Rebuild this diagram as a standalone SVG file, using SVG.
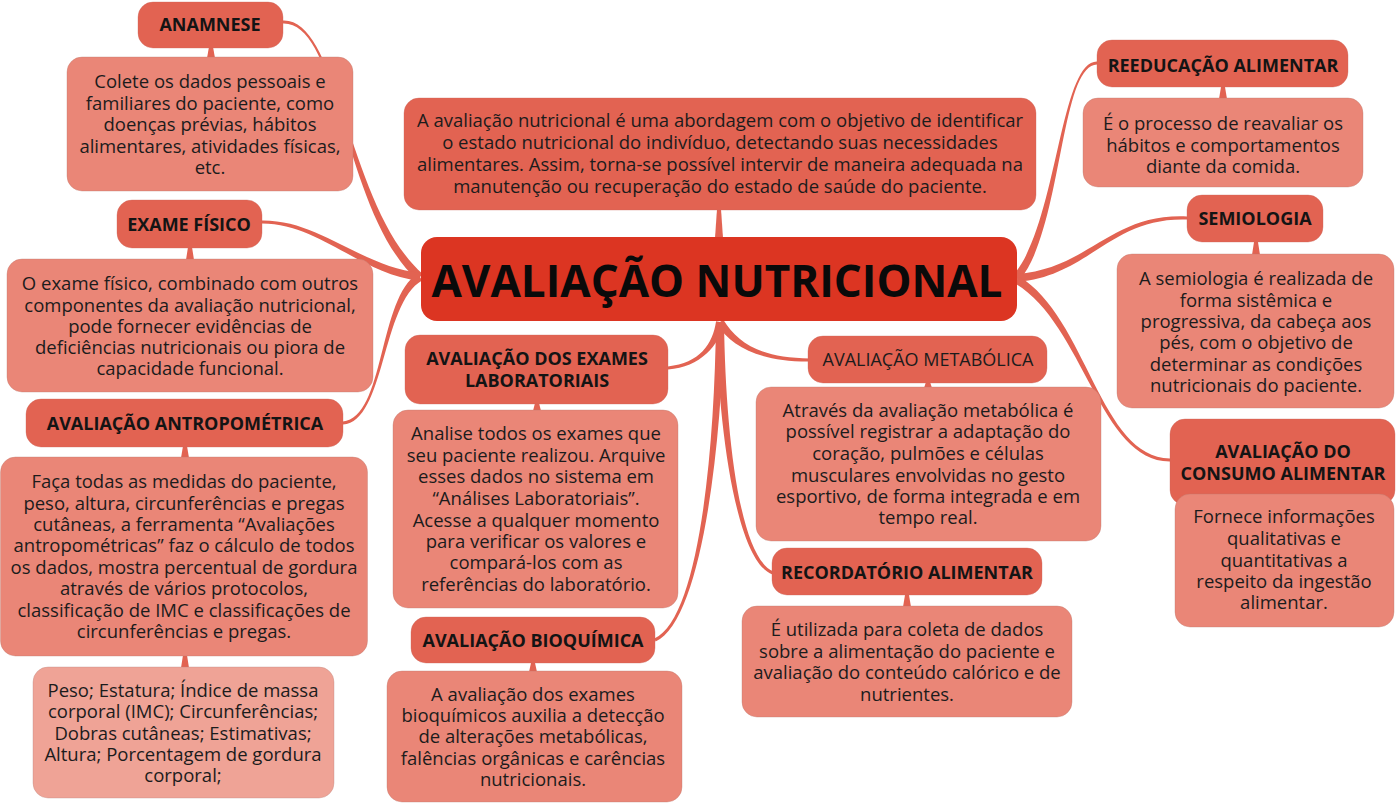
<svg xmlns="http://www.w3.org/2000/svg" width="1397" height="803" viewBox="0 0 1397 803">
<style>
.hdr{fill:#E26352;stroke:#c9685b;stroke-opacity:0.35;stroke-width:1}
.dsc{fill:#EA8677;stroke:#b9776d;stroke-opacity:0.35;stroke-width:1}
.lite{fill:#EFA396;stroke:#b9877f;stroke-opacity:0.35;stroke-width:1}
.ctr{fill:#DC3522}
.br{fill:#E26352}
text{font-family:"Open Sans","DejaVu Sans",sans-serif;font-size:18.5px;fill:#1c1c1c;text-anchor:middle}
.b{font-weight:bold;fill:#141414;font-size:18px}
.m{font-size:18px}
.ttl{font-size:44px;font-weight:bold;fill:#0a0a0a}
</style>
<rect width="1397" height="803" fill="#ffffff"/>
<g id="connectors">
<path class="br" d="M 283.1 23.5 C 340.1 22, 342.7 212.6, 417.3 280 L 422.7 274 C 347.3 207.4, 339.9 18, 282.9 20.5 Z"/>
<path class="br" d="M 262 223.5 C 320 224, 359.6 273.5, 419.5 281 L 420.5 273 C 360.4 266.5, 320 220, 262 220.5 Z"/>
<path class="br" d="M 343.1 424.5 C 385.1 422, 381.7 303, 422 280.5 L 418 273.5 C 378.3 297, 384.9 418, 342.9 421.5 Z"/>
<path class="br" d="M 1097 61.5 C 1060 61, 1057.3 222.8, 1013.9 274.5 L 1020.1 279.5 C 1062.7 227.2, 1060 65, 1097 64.5 Z"/>
<path class="br" d="M 1187 216.5 C 1110 213, 1089.7 268.5, 1016.7 274 L 1017.3 282 C 1090.3 275.5, 1110 217, 1187 219.5 Z"/>
<path class="br" d="M 1170 458.5 C 1100 458, 1086.8 317, 1019 276.6 L 1015 283.4 C 1083.2 323, 1100 462, 1170 461.5 Z"/>
<path class="br" d="M 668.1 369.5 C 700.2 367, 719.4 345.6, 723.9 322.7 L 716.1 321.3 C 712.6 344.4, 699.8 363, 667.9 366.5 Z"/>
<path class="br" d="M 655.6 641.4 C 700.8 621.8, 721.5 450, 724 322 L 716 322 C 714.5 450, 699.2 618.2, 654.4 638.6 Z"/>
<path class="br" d="M 810 358.5 C 760 358, 737.9 343.1, 723.3 319.8 L 716.7 324.2 C 732.1 346.9, 760 362, 810 361.5 Z"/>
<path class="br" d="M 773.5 571.6 C 738.7 557.1, 725.5 429.9, 724 321.9 L 716 322.1 C 718.5 430.1, 736.3 561.9, 772.5 574.4 Z"/>
<polygon class="br" points="717,209 721,209 723,238 715,238"/>
<polygon class="br" points="209,47 213,47 215,58 207,58"/>
<polygon class="br" points="188,247 192,247 194,260 186,260"/>
<polygon class="br" points="183,446 187,446 189,458 181,458"/>
<polygon class="br" points="183,655 187,655 189,668 181,668"/>
<polygon class="br" points="535,403 539,403 541,411 533,411"/>
<polygon class="br" points="531,663 535,663 537,672 529,672"/>
<polygon class="br" points="926,382 930,382 932,388 924,388"/>
<polygon class="br" points="905,595 909,595 911,607 903,607"/>
<polygon class="br" points="1221,87 1225,87 1227,99 1219,99"/>
<polygon class="br" points="1254,242 1258,242 1260,255 1252,255"/>
</g>
<g id="central">
<rect class="ctr" x="421" y="237" width="596" height="84" rx="16"/>
<text class="ttl" x="717" y="297" textLength="571" lengthAdjust="spacingAndGlyphs">AVALIAÇÃO NUTRICIONAL</text>
</g>
<g id="intro">
<rect class="hdr" x="404" y="98" width="632" height="112" rx="15"/>
<text><tspan x="720" y="127">A avaliação nutricional é uma abordagem com o objetivo de identificar</tspan><tspan x="720" y="149">o estado nutricional do indivíduo, detectando suas necessidades</tspan><tspan x="720" y="171">alimentares. Assim, torna-se possível intervir de maneira adequada na</tspan><tspan x="720" y="193">manutenção ou recuperação do estado de saúde do paciente.</tspan></text>
</g>
<g id="anamnese">
<rect class="hdr" x="138" y="2" width="145" height="46" rx="15"/>
<text class="b" x="210" y="31">ANAMNESE</text>
</g>
<g id="anamnese-desc">
<rect class="dsc" x="67" y="57" width="286" height="134" rx="15"/>
<text><tspan x="210" y="88">Colete os dados pessoais e</tspan><tspan x="210" y="110">familiares do paciente, como</tspan><tspan x="210" y="131">doenças prévias, hábitos</tspan><tspan x="210" y="153">alimentares, atividades físicas,</tspan><tspan x="210" y="174">etc.</tspan></text>
</g>
<g id="exame">
<rect class="hdr" x="117" y="200" width="145" height="48" rx="15"/>
<text class="b" x="189" y="231">EXAME FÍSICO</text>
</g>
<g id="exame-desc">
<rect class="dsc" x="7" y="259" width="366" height="133" rx="15"/>
<text><tspan x="190" y="290">O exame físico, combinado com outros</tspan><tspan x="190" y="312">componentes da avaliação nutricional,</tspan><tspan x="190" y="333">pode fornecer evidências de</tspan><tspan x="190" y="354">deficiências nutricionais ou piora de</tspan><tspan x="190" y="375">capacidade funcional.</tspan></text>
</g>
<g id="antropometrica">
<rect class="hdr" x="26" y="399" width="317" height="48" rx="15"/>
<text class="b" x="185" y="430">AVALIAÇÃO ANTROPOMÉTRICA</text>
</g>
<g id="antropometrica-desc">
<rect class="dsc" x="0.5" y="457" width="367" height="199" rx="15"/>
<text><tspan x="184" y="488">Faça todas as medidas do paciente,</tspan><tspan x="184" y="510">peso, altura, circunferências e pregas</tspan><tspan x="184" y="531">cutâneas, a ferramenta “Avaliações</tspan><tspan x="184" y="552">antropométricas” faz o cálculo de todos</tspan><tspan x="184" y="574">os dados, mostra percentual de gordura</tspan><tspan x="184" y="595">através de vários protocolos,</tspan><tspan x="184" y="617">classificação de IMC e classificações de</tspan><tspan x="184" y="638">circunferências e pregas.</tspan></text>
</g>
<g id="antropometrica-lista">
<rect class="lite" x="33" y="667" width="301" height="131" rx="15"/>
<text><tspan x="183" y="697">Peso; Estatura; Índice de massa</tspan><tspan x="183" y="718">corporal (IMC); Circunferências;</tspan><tspan x="183" y="740">Dobras cutâneas; Estimativas;</tspan><tspan x="183" y="761">Altura; Porcentagem de gordura</tspan><tspan x="183" y="782">corporal;</tspan></text>
</g>
<g id="laboratoriais">
<rect class="hdr" x="405" y="335" width="263" height="69" rx="15"/>
<text class="b"><tspan x="537" y="365">AVALIAÇÃO DOS EXAMES</tspan><tspan x="537" y="387">LABORATORIAIS</tspan></text>
</g>
<g id="laboratoriais-desc">
<rect class="dsc" x="393" y="410" width="285" height="198" rx="15"/>
<text><tspan x="536" y="440">Analise todos os exames que</tspan><tspan x="536" y="462">seu paciente realizou. Arquive</tspan><tspan x="536" y="483">esses dados no sistema em</tspan><tspan x="536" y="505">“Análises Laboratoriais”.</tspan><tspan x="536" y="527">Acesse a qualquer momento</tspan><tspan x="536" y="548">para verificar os valores e</tspan><tspan x="536" y="569">compará-los com as</tspan><tspan x="536" y="591">referências do laboratório.</tspan></text>
</g>
<g id="bioquimica">
<rect class="hdr" x="411" y="617" width="244" height="46" rx="15"/>
<text class="b" x="533" y="647">AVALIAÇÃO BIOQUÍMICA</text>
</g>
<g id="bioquimica-desc">
<rect class="dsc" x="387" y="671" width="295" height="131" rx="15"/>
<text><tspan x="533" y="701">A avaliação dos exames</tspan><tspan x="533" y="722">bioquímicos auxilia a detecção</tspan><tspan x="533" y="743">de alterações metabólicas,</tspan><tspan x="533" y="765">falências orgânicas e carências</tspan><tspan x="533" y="786">nutricionais.</tspan></text>
</g>
<g id="metabolica">
<rect class="hdr" x="808" y="336" width="239" height="47" rx="15"/>
<text class="m" x="928" y="366">AVALIAÇÃO METABÓLICA</text>
</g>
<g id="metabolica-desc">
<rect class="dsc" x="756" y="387" width="345" height="154" rx="15"/>
<text><tspan x="928" y="417">Através da avaliação metabólica é</tspan><tspan x="928" y="438">possível registrar a adaptação do</tspan><tspan x="928" y="460">coração, pulmões e células</tspan><tspan x="928" y="482">musculares envolvidas no gesto</tspan><tspan x="928" y="503">esportivo, de forma integrada e em</tspan><tspan x="928" y="524">tempo real.</tspan></text>
</g>
<g id="recordatorio">
<rect class="hdr" x="772" y="548" width="270" height="47" rx="15"/>
<text class="b" x="907" y="579">RECORDATÓRIO ALIMENTAR</text>
</g>
<g id="recordatorio-desc">
<rect class="dsc" x="742" y="606" width="330" height="111" rx="15"/>
<text><tspan x="907" y="636">É utilizada para coleta de dados</tspan><tspan x="907" y="658">sobre a alimentação do paciente e</tspan><tspan x="907" y="679">avaliação do conteúdo calórico e de</tspan><tspan x="907" y="701">nutrientes.</tspan></text>
</g>
<g id="reeducacao">
<rect class="hdr" x="1097" y="40" width="251" height="47" rx="15"/>
<text class="b" x="1223" y="72">REEDUCAÇÃO ALIMENTAR</text>
</g>
<g id="reeducacao-desc">
<rect class="dsc" x="1083" y="98" width="280" height="89" rx="15"/>
<text><tspan x="1223" y="130">É o processo de reavaliar os</tspan><tspan x="1223" y="152">hábitos e comportamentos</tspan><tspan x="1223" y="173">diante da comida.</tspan></text>
</g>
<g id="semiologia">
<rect class="hdr" x="1187" y="195" width="136" height="47" rx="15"/>
<text class="b" x="1255" y="225">SEMIOLOGIA</text>
</g>
<g id="semiologia-desc">
<rect class="dsc" x="1117" y="254" width="277" height="154" rx="15"/>
<text><tspan x="1256" y="285">A semiologia é realizada de</tspan><tspan x="1256" y="307">forma sistêmica e</tspan><tspan x="1256" y="328">progressiva, da cabeça aos</tspan><tspan x="1256" y="349">pés, com o objetivo de</tspan><tspan x="1256" y="371">determinar as condições</tspan><tspan x="1256" y="392">nutricionais do paciente.</tspan></text>
</g>
<g id="consumo">
<rect class="hdr" x="1170" y="419" width="225" height="86" rx="15"/>
<text class="b"><tspan x="1283" y="458">AVALIAÇÃO DO</tspan><tspan x="1283" y="480">CONSUMO ALIMENTAR</tspan></text>
</g>
<g id="consumo-desc">
<rect class="dsc" x="1175" y="494" width="219" height="133" rx="15"/>
<text><tspan x="1284" y="523">Fornece informações</tspan><tspan x="1284" y="545">qualitativas e</tspan><tspan x="1284" y="567">quantitativas a</tspan><tspan x="1284" y="588">respeito da ingestão</tspan><tspan x="1284" y="609">alimentar.</tspan></text>
</g>
</svg>
